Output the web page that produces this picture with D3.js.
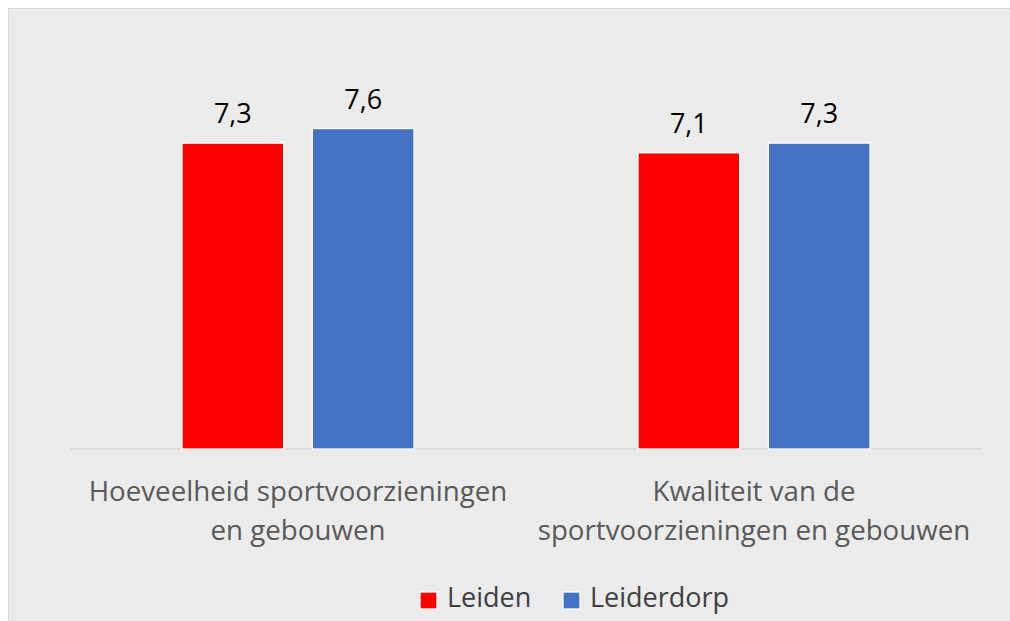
<!DOCTYPE html>
<html>
<head>
<meta charset="utf-8">
<script src="https://cdn.jsdelivr.net/npm/d3@7"></script>
<style>
  body { margin: 0; background: #ffffff; }
  svg { display: block; font-family: "Open Sans", sans-serif; }
</style>
</head>
<body>
<svg id="chart"></svg>
<script>
var categories = [
    ["Hoeveelheid sportvoorzieningen", "en gebouwen"],
    ["Kwaliteit van de", "sportvoorzieningen en gebouwen"]
];
var seriesNames = ["Leiden", "Leiderdorp"];
var seriesColors = ["#ff0000", "#4472c4"];
var leiden = [7.3, 7.1];
var leiderdorp = [7.6, 7.3];

var width = 1010, height = 621;
var plotLeft = 70, plotRight = 982, plotTop = 12, baseline = 449;

var svg = d3.select("#chart").attr("width", width).attr("height", height);

// chart area background
svg.append("rect")
    .attr("x", 8.5).attr("y", 8.5)
    .attr("width", width).attr("height", height)
    .attr("fill", "#ebebeb")
    .attr("stroke", "#d9d9d9")
    .attr("stroke-width", 1);

var x0 = d3.scaleBand()
    .domain(d3.range(categories.length))
    .range([plotLeft, plotRight]);

var x1 = d3.scaleBand()
    .domain(d3.range(seriesNames.length))
    .range([0, 232])
    .paddingInner(0.22);

var y = d3.scaleLinear()
    .domain([1, 10])
    .range([baseline, plotTop]);

var data = [];
categories.forEach(function(c, i) {
    data.push({ cat: i, s: 0, v: leiden[i] });
    data.push({ cat: i, s: 1, v: leiderdorp[i] });
});

function barX(d) {
    return x0(d.cat) + x0.bandwidth() / 2 - 116 + x1(d.s);
}

// baseline
svg.append("line")
    .attr("x1", plotLeft).attr("x2", plotRight)
    .attr("y1", baseline).attr("y2", baseline)
    .attr("stroke", "#d9d9d9")
    .attr("stroke-width", 1.5);

svg.selectAll("rect.bar")
    .data(data)
    .enter()
    .append("rect")
    .attr("class", "bar")
    .attr("x", barX)
    .attr("y", function(d) { return y(d.v); })
    .attr("width", x1.bandwidth())
    .attr("height", function(d) { return baseline - y(d.v); })
    .attr("fill", function(d) { return seriesColors[d.s]; })
    .attr("stroke", "#ffffff")
    .attr("stroke-width", 1.3);

svg.selectAll("text.val")
    .data(data)
    .enter()
    .append("text")
    .attr("class", "val")
    .attr("x", function(d) { return barX(d) + x1.bandwidth() / 2; })
    .attr("y", function(d) { return y(d.v) - 20; })
    .attr("text-anchor", "middle")
    .attr("font-size", 27)
    .attr("fill", "#000000")
    .text(function(d) { return d.v.toFixed(1).replace(".", ","); });

// category labels
var catLabels = svg.selectAll("text.cat")
    .data(categories)
    .enter()
    .append("text")
    .attr("class", "cat")
    .attr("text-anchor", "middle")
    .attr("font-size", 27.7)
    .attr("fill", "#595959");

catLabels.selectAll("tspan")
    .data(function(d, i) { return d.map(function(t) { return { t: t, i: i }; }); })
    .enter()
    .append("tspan")
    .attr("x", function(d) { return x0(d.i) + x0.bandwidth() / 2; })
    .attr("y", function(d, j) { return 501 + j * 39; })
    .text(function(d) { return d.t; });

// legend
var legendX = [420, 563];
var legend = svg.selectAll("g.legend")
    .data(seriesNames)
    .enter()
    .append("g")
    .attr("class", "legend")
    .attr("transform", function(d, i) { return "translate(" + legendX[i] + ",592)"; });

legend.append("rect")
    .attr("width", 17).attr("height", 17)
    .attr("fill", function(d, i) { return seriesColors[i]; })
    .attr("stroke", "#ffffff")
    .attr("stroke-width", 1.3);

legend.append("text")
    .attr("x", 27)
    .attr("y", 15)
    .attr("font-size", 27)
    .attr("fill", "#404040")
    .text(function(d) { return d; });
</script>
</body>
</html>
